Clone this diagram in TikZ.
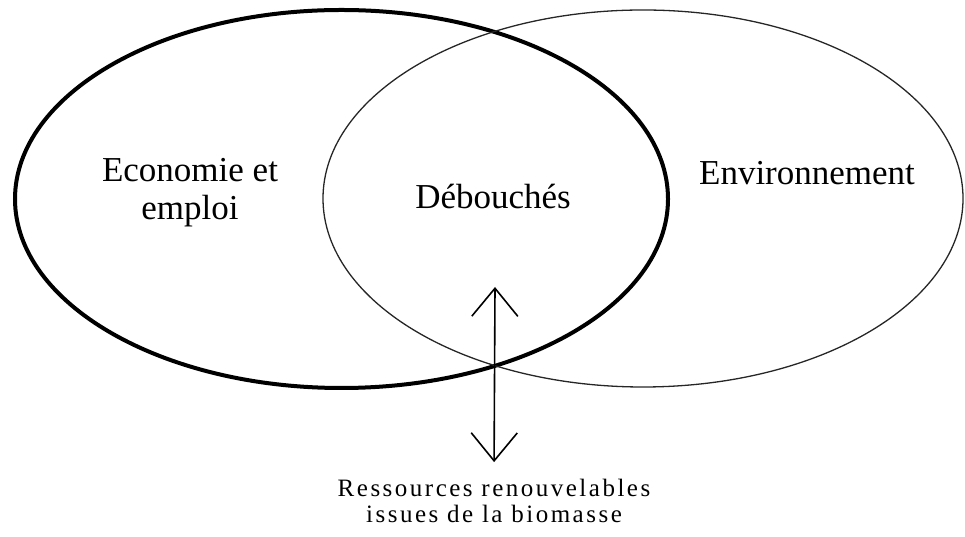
\documentclass[tikz,border=0pt]{standalone}
\usepackage{fontspec}
\setmainfont{Liberation Serif}
\newfontfamily\widefont[LetterSpace=10]{Liberation Serif}
\usepackage{tikz}
\usetikzlibrary{arrows.meta}

\tikzset{
	bigset/.style={line width=4pt},
	thinset/.style={line width=1.3pt, black!85},
	biarrow/.style={line width=1.6pt, {Straight Barb[length=28pt,width=46pt]}-{Straight Barb[length=28pt,width=46pt]}},
	label/.style={font=\fontsize{35}{38}\selectfont, align=center},
	source/.style={font=\widefont\fontsize{25}{26}\selectfont, align=center}
}

\begin{document}
\begin{tikzpicture}[x=1pt,y=1pt]
				\useasboundingbox (0,0) rectangle (965,537);
				\draw [bigset] (341.5,338) ellipse [x radius=326.5, y radius=189];
				\draw [thinset] (643,338.5) ellipse [x radius=320, y radius=188.5];
				\node [label] (eco) at (190,344) {Economie et\\emploi};
				\node [label, anchor=base] (deb) at (493,328) {Débouchés};
				\node [label, anchor=base] (env) at (807,352) {Environnement};
				\node [source, anchor=base] (res) at (494,14) {Ressources renouvelables\\issues de la biomasse};
				\coordinate (tip) at (495,250);
				\draw [biarrow, shorten <=14pt] (res.north) -- (tip);
\end{tikzpicture}
\end{document}
